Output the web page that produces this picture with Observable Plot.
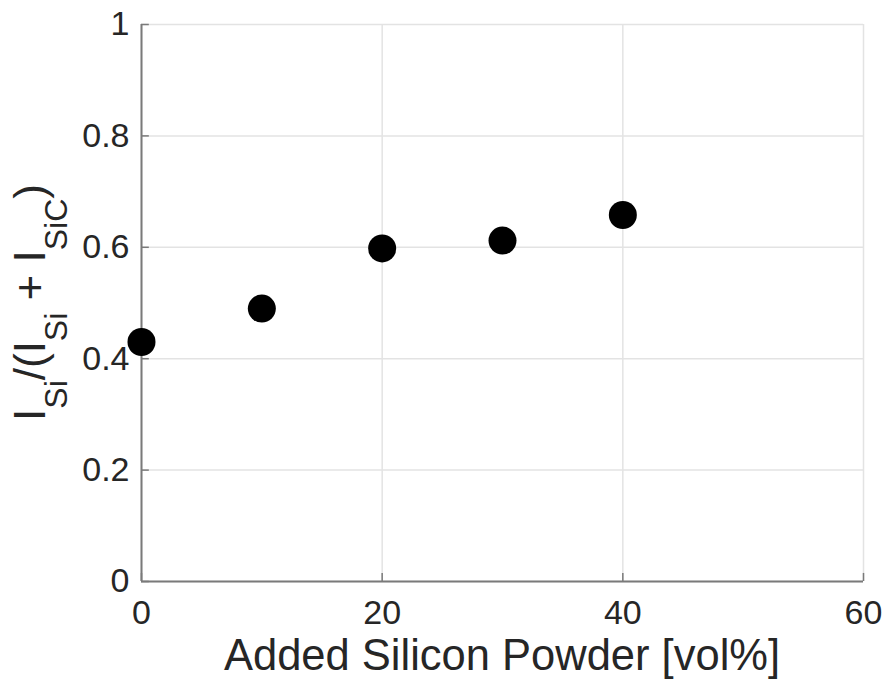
<!DOCTYPE html>
<html>
<head>
<meta charset="utf-8">
<script src="https://cdn.jsdelivr.net/npm/d3@7"></script>
<script src="https://cdn.jsdelivr.net/npm/@observablehq/plot@0.6"></script>
<style>
  html, body { margin: 0; padding: 0; background: #ffffff; }
  #chart { width: 887px; height: 685px; }
</style>
</head>
<body>
<div id="chart"></div>
<script>
const xValues = [0, 10, 20, 30, 40];
const yValues = [0.43, 0.49, 0.598, 0.612, 0.658];
const xTicks = [0, 20, 40, 60];
const yTicks = [0, 0.2, 0.4, 0.6, 0.8, 1];
const xLabel = "Added Silicon Powder [vol%]";
const yLabelParts = [["I", false], ["Si", true], ["/(I", false], ["Si", true], [" + I", false], ["SiC", true], [")", false]];

const data = xValues.map((x, i) => ({x, y: yValues[i]}));
const font = "'Liberation Sans', Arial, Helvetica, sans-serif";
const axisColor = "#7a7a7a";
const textColor = "#262626";

const W = 887, H = 685, mL = 141, mR = 24, mT = 24, mB = 104;

const chart = Plot.plot({
  width: W,
  height: H,
  marginLeft: mL,
  marginRight: mR,
  marginTop: mT,
  marginBottom: mB,
  style: {fontFamily: font, background: "#ffffff"},
  x: {domain: [0, 60]},
  y: {domain: [0, 1]},
  marks: [
    Plot.ruleX(xTicks, {stroke: "#e3e3e3", strokeWidth: 1.5}),
    Plot.ruleY(yTicks, {stroke: "#e3e3e3", strokeWidth: 1.5}),
    Plot.ruleX([0], {stroke: axisColor, strokeWidth: 2}),
    Plot.ruleY([0], {stroke: axisColor, strokeWidth: 2}),
    Plot.ruleY(yTicks, {x1: 0, x2: 0.65, stroke: axisColor, strokeWidth: 1.5}),
    Plot.ruleX(xTicks, {y1: 0, y2: 0.0145, stroke: axisColor, strokeWidth: 1.5}),
    Plot.axisX({ticks: xTicks, tickSize: 0, tickPadding: 18, fontSize: 34, label: null,
                tickFormat: d => String(d), color: textColor}),
    Plot.axisY({ticks: yTicks, tickSize: 0, tickPadding: 12, fontSize: 34, label: null,
                tickFormat: d => String(d), color: textColor}),
    Plot.dot(data, {x: "x", y: "y", r: 14, fill: "#000000", stroke: "none"})
  ]
});

document.getElementById("chart").appendChild(chart);

const svg = d3.select(chart);
svg.append("text")
  .attr("x", mL + (W - mL - mR) / 2)
  .attr("y", 670)
  .attr("text-anchor", "middle")
  .attr("font-family", font)
  .attr("font-size", 43.5)
  .attr("fill", textColor)
  .text(xLabel);

const yl = svg.append("text")
  .attr("transform", `translate(45,${mT + (H - mT - mB) / 2}) rotate(-90)`)
  .attr("text-anchor", "middle")
  .attr("font-family", font)
  .attr("font-size", 44)
  .attr("fill", textColor)
  .attr("xml:space", "preserve");
let shifted = false;
yLabelParts.forEach(([t, sub]) => {
  const ts = yl.append("tspan").text(t);
  if (sub && !shifted) { ts.attr("dy", 22).attr("font-size", 32); shifted = true; }
  else if (sub) { ts.attr("font-size", 32); }
  else if (!sub && shifted) { ts.attr("dy", -22); shifted = false; }
});
</script>
</body>
</html>
